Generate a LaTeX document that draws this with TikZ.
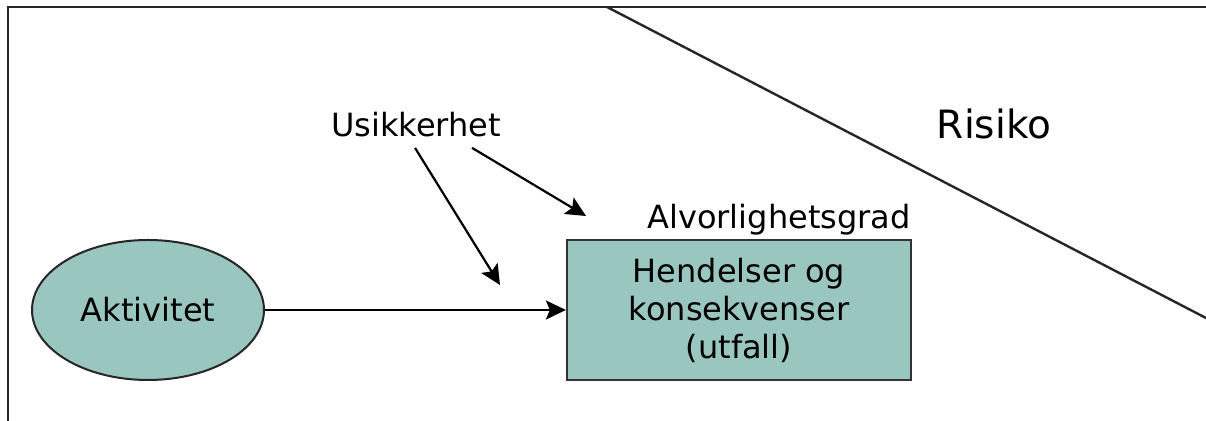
\documentclass[tikz,border=0pt]{standalone}
\usepackage{fontspec}
\setmainfont{DejaVu Sans}
\usepackage{xcolor}
\usetikzlibrary{shapes.geometric, arrows.meta, positioning}
\definecolor{tealfill}{RGB}{153,199,191}

\begin{document}
\begin{tikzpicture}[
    x=0.5pt, y=-0.5pt,
    blob/.style={draw=black!85, ellipse, fill=tealfill, line width=1pt, minimum width=116pt, minimum height=70pt, inner sep=0pt, font=\fontsize{16}{18.5}\selectfont},
    box/.style={draw=black!80, rectangle, fill=tealfill, line width=1.1pt, minimum width=172pt, minimum height=70pt, inner sep=0pt, align=center, font=\fontsize{16}{19}\selectfont},
    txt/.style={inner sep=0pt, font=\fontsize{16}{18.5}\selectfont},
    bigtxt/.style={inner sep=0pt, font=\fontsize{19.5}{22}\selectfont},
    arrow/.style={-{Stealth[length=10pt, width=9.5pt, inset=2pt]}, line width=1.1pt},
    frame/.style={line width=1.2pt, draw=black!85}
]
\useasboundingbox (0,0) rectangle (1206,421);

% Frame and boundary
\draw[frame] (8,440) -- (8,7) -- (1220,7);
\draw[frame] (607,7) -- (1226,328.4);

% Nodes
\node[blob] (aktivitet) at (148,310) {Aktivitet};
\node[box] (hendelser) at (739,310) {Hendelser og\\konsekvenser\\(utfall)};
\node[txt, anchor=base east] (grad) at (911,229) {Alvorlighetsgrad};
\node[txt, anchor=base] (usik) at (416,137) {Usikkerhet};
\node[bigtxt, anchor=base] (risiko) at (994,139) {Risiko};

\coordinate (tipA) at (500,285);
\coordinate (tipB) at (586,216);

% Connections
\draw[arrow] (aktivitet) -- (hendelser);
\draw[arrow] ([xshift=-0.5pt, yshift=-5pt]usik.south) -- (tipA);
\draw[arrow] ([xshift=28pt, yshift=-5pt]usik.south) -- (tipB);

\end{tikzpicture}
\end{document}
